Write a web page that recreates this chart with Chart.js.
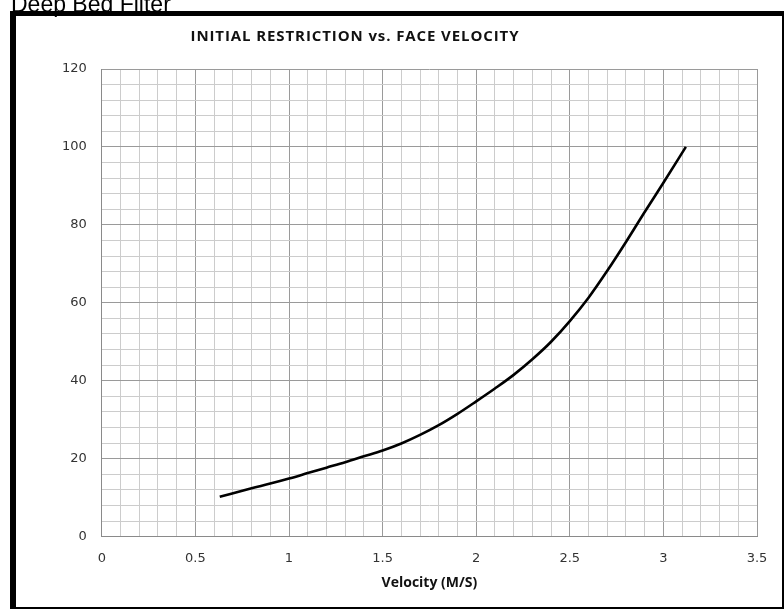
<!DOCTYPE html>
<html>
<head>
<meta charset="utf-8">
<script src="https://cdn.jsdelivr.net/npm/chart.js@4"></script>
<style>
  html, body { margin: 0; padding: 0; background: #fff; }
  #wrap { position: relative; width: 784px; height: 610px; overflow: hidden; }
  #page-title { position: absolute; left: 11px; top: -7px; font: 23px/23px "Liberation Sans", Arial, sans-serif; color: #000; white-space: nowrap; }
  #frame { position: absolute; left: 10px; top: 11px; width: 766px; height: 591px; border-style: solid; border-color: #000; border-width: 5px 2px 2px 6px; pointer-events: none; z-index: 2; }
  #chart-title { position: absolute; left: 0; top: 28px; width: 710px; text-align: center; font: bold 15px/15px "Open Sans", sans-serif; letter-spacing: 0.9px; color: #111; white-space: nowrap; }
  canvas { position: absolute; left: 0; top: 0; }
</style>
</head>
<body>
<div id="wrap">
  <canvas id="chart" width="784" height="610"></canvas>
  <div id="page-title">Deep Bed Filter</div>
  <div id="frame"></div>
  <div id="chart-title">INITIAL RESTRICTION vs. FACE VELOCITY</div>
</div>
<script>
// values
const velocity    = [0.63, 0.8, 0.9, 1.0, 1.1, 1.2, 1.3, 1.4, 1.5, 1.6, 1.7, 1.8, 1.9, 2.0, 2.1, 2.2, 2.3, 2.4, 2.5, 2.6, 2.7, 2.8, 2.9, 3.0, 3.12];
const restriction = [10.2, 12.4, 13.6, 14.9, 16.3, 17.7, 19.1, 20.6, 22.1, 23.9, 26.1, 28.6, 31.5, 34.7, 38.0, 41.5, 45.5, 50.0, 55.3, 61.3, 68.2, 75.6, 83.3, 90.8, 100];

const xMin = 0, xMax = 3.5, xStep = 0.1, xMajor = 0.5;
const yMin = 0, yMax = 120, yStep = 4, yMajor = 20;

function isMajor(v, major) {
  const r = v / major;
  return Math.abs(r - Math.round(r)) < 1e-6;
}

const points = velocity.map((v, i) => ({ x: v, y: restriction[i] }));

const tickFont = { family: 'DejaVu Sans', size: 13 };

new Chart(document.getElementById('chart'), {
  type: 'line',
  data: {
    datasets: [{
      label: 'Initial restriction',
      data: points,
      borderColor: '#000',
      borderWidth: 2.6,
      pointRadius: 0,
      fill: false,
      cubicInterpolationMode: 'monotone',
    }]
  },
  options: {
    responsive: false,
    animation: false,
    layout: { padding: { left: 47, right: 27, top: 69, bottom: 19 } },
    plugins: {
      legend: { display: false },
      tooltip: { enabled: false }
    },
    scales: {
      x: {
        type: 'linear',
        min: xMin, max: xMax,
        ticks: {
          stepSize: xStep,
          autoSkip: false,
          maxRotation: 0,
          padding: 14,
          color: '#333',
          font: tickFont,
          callback: v => isMajor(v, xMajor) ? String(Math.round(v * 10) / 10) : ''
        },
        grid: {
          drawTicks: false,
          color: ctx => isMajor(ctx.tick.value, xMajor) ? '#9a9a9a' : '#cccccc',
        },
        border: { color: '#8a8a8a' },
        title: {
          display: true,
          text: 'Velocity (M/S)',
          color: '#111',
          font: { family: 'Open Sans', size: 14, weight: 'bold' },
          padding: { top: -6, bottom: 0 }
        }
      },
      y: {
        type: 'linear',
        min: yMin, max: yMax,
        ticks: {
          stepSize: yStep,
          autoSkip: false,
          padding: 15,
          color: '#333',
          font: tickFont,
          callback: v => isMajor(v, yMajor) ? String(v) : ''
        },
        grid: {
          drawTicks: false,
          color: ctx => isMajor(ctx.tick.value, yMajor) ? '#9a9a9a' : '#cccccc',
        },
        border: { color: '#8a8a8a' }
      }
    }
  }
});
</script>
</body>
</html>
